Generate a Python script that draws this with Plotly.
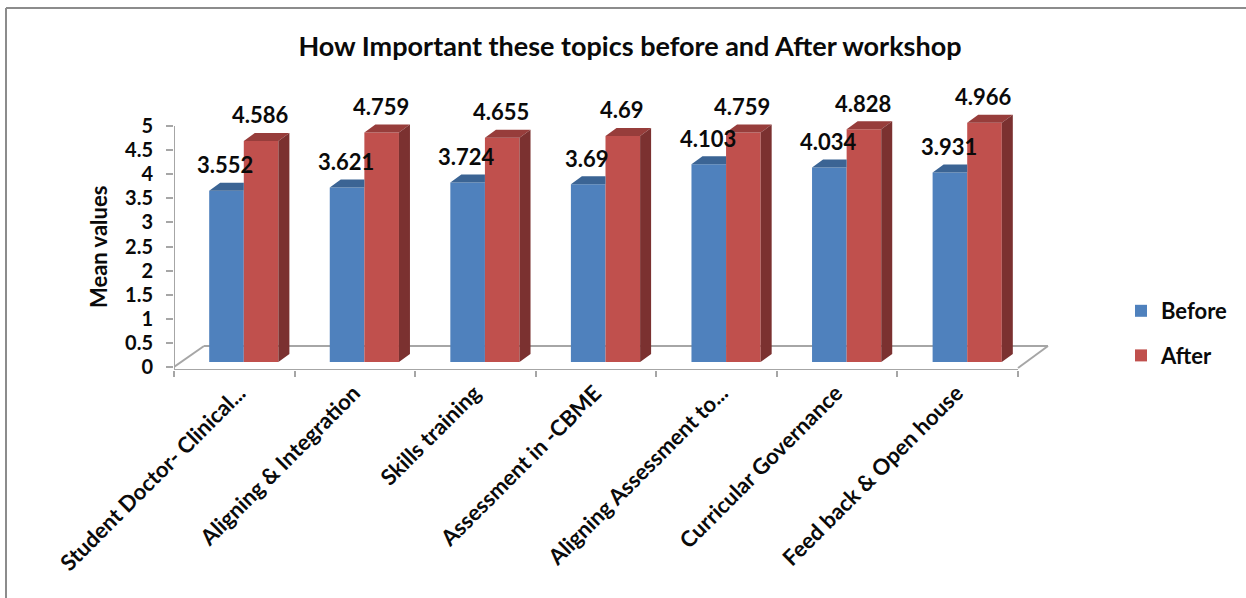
import plotly.graph_objects as go

categories = ["Student Doctor- Clinical...", "Aligning & Integration", "Skills training",
              "Assessment in -CBME", "Aligning Assessment to...", "Curricular Governance",
              "Feed back & Open house"]
before = [3.552, 3.621, 3.724, 3.69, 4.103, 4.034, 3.931]
after = [4.586, 4.759, 4.655, 4.69, 4.759, 4.828, 4.966]
y_ticks = [0, 0.5, 1, 1.5, 2, 2.5, 3, 3.5, 4, 4.5, 5]
y_tick_labels = ["0", "0.5", "1", "1.5", "2", "2.5", "3", "3.5", "4", "4.5", "5"]

W, H = 1246, 598
L, R, T, B = 174, 1060, 100, 370
PX_X = 120.57                # pixels per category
PX_Y = 48.2                  # pixels per y unit
FONT = "Lato"
INK = "#0a0a0a"
BLUE, BLUE_TOP = "#4F81BD", "#3B6494"
RED, RED_TOP, RED_SIDE = "#C0504D", "#973D3B", "#7B3130"
GRID = "#A6A6A6"

px2x = lambda p: p / PX_X
px2y = lambda p: p / PX_Y
y_bottom = -px2y(3)
y_top = px2y(267)
x_top = (R - L) / PX_X

group_shift = px2x(9.5)
bar_w = px2x(34.6)
base = px2y(5)
dx, dy = px2x(11), px2y(8)
centers = [i + 0.5 + group_shift for i in range(len(categories))]
# truncated labels end a little further right than complete ones
label_vals = [i + 0.5 + px2x(5 if c.endswith("...") else -1) for i, c in enumerate(categories)]

fig = go.Figure()
fig.add_bar(x=centers, y=before, base=base, name="Before", marker=dict(color=BLUE, line_width=0),
            offsetgroup="0", legendgroup="a", hoverinfo="skip")
fig.add_bar(x=centers, y=after, base=base, name="After", marker=dict(color=RED, line_width=0),
            offsetgroup="1", legendgroup="b", hoverinfo="skip")

bx, by, rx, ry, sx, sy = [], [], [], [], [], []
for c, b, a in zip(centers, before, after):
    t = b + base
    bx += [c - bar_w, c, c, c - bar_w + dx, None]
    by += [t, t, t + dy, t + dy, None]
    t = a + base
    rx += [c, c + bar_w, c + bar_w + dx, c + dx, None]
    ry += [t, t, t + dy, t + dy, None]
    sx += [c + bar_w, c + bar_w + dx, c + bar_w + dx, c + bar_w, None]
    sy += [t, t + dy, base + dy, base, None]
for xs, ys, col in [(bx, by, BLUE_TOP), (rx, ry, RED_TOP), (sx, sy, RED_SIDE)]:
    fig.add_scatter(x=xs, y=ys, mode="lines", fill="toself", fillcolor=col, line_width=0,
                    showlegend=False, hoverinfo="skip")

for c, b, a in zip(centers, before, after):
    for xx, v in ((c - bar_w / 2, b), (c + bar_w / 2, a)):
        fig.add_annotation(x=xx, y=v + base, text=f"{v:g}", showarrow=False, yshift=26, xshift=-1,
                           font=dict(family=FONT, size=22, color=INK, weight="bold"))

floor_d_x, floor_d_y = px2x(30), px2y(21)
n = len(categories)
floor = [(0, -0.0), (floor_d_x, floor_d_y), (n + floor_d_x, floor_d_y), (n, -0.02)]
for (x0, y0), (x1, y1) in zip(floor[:-1], floor[1:]):
    fig.add_shape(type="line", x0=x0, y0=y0, x1=x1, y1=y1, xref="x", yref="y", layer="below",
                  line=dict(color=GRID, width=2))
fig.add_shape(type="line", x0=0, x1=0, y0=y_bottom, y1=5, xref="x", yref="y", layer="below",
              line=dict(color=GRID, width=2))
fig.add_shape(type="line", x0=0, x1=n, y0=y_bottom, y1=y_bottom, xref="x", yref="y", layer="below",
              line=dict(color=GRID, width=2))

pw, ph = R - L, B - T
fx = lambda p: (p - L) / pw
fy = lambda p: (B - p) / ph
fig.add_shape(type="line", xref="paper", yref="paper", x0=fx(6), x1=fx(1246), y0=fy(8), y1=fy(8),
              line=dict(color="#8C8C8C", width=2))
fig.add_shape(type="line", xref="paper", yref="paper", x0=fx(6), x1=fx(6), y0=fy(8), y1=fy(598),
              line=dict(color="#8C8C8C", width=2))

fig.add_annotation(xref="paper", yref="paper", x=fx(98), y=fy(247), text="Mean values", textangle=-90,
                   xanchor="center", yanchor="middle", showarrow=False,
                   font=dict(family=FONT, size=22, color=INK, weight="bold"))

fig.update_layout(
    width=W, height=H, autosize=False,
    margin=dict(l=L, r=W - R, t=T, b=H - B, pad=0),
    paper_bgcolor="white", plot_bgcolor="rgba(0,0,0,0)",
    barmode="group", bargap=1 - 2 * bar_w, bargroupgap=0,
    title=dict(text="How Important these topics before and After workshop",
               x=630 / W, xanchor="center", y=1 - 47 / H, yanchor="middle",
               font=dict(family=FONT, size=27, color=INK, weight="bold")),
    legend=dict(x=fx(1121), xanchor="left", y=fy(290), yanchor="top", traceorder="grouped",
                tracegroupgap=13, bgcolor="rgba(0,0,0,0)",
                font=dict(family=FONT, size=22, color=INK, weight="bold"), itemclick=False),
    showlegend=True,
    xaxis=dict(type="linear", range=[0, x_top], showgrid=False, zeroline=False, showline=False,
               tickmode="array", tickvals=label_vals,
               ticktext=categories, ticks="", tickangle=-45, ticklabelstandoff=5,
               tickfont=dict(family=FONT, size=22, color=INK, weight="bold"),
               minor=dict(tickmode="array", tickvals=list(range(n + 1)), ticks="outside", ticklen=6,
                          tickwidth=2, tickcolor=GRID, showgrid=False)),
    yaxis=dict(range=[y_bottom, y_top], showgrid=False, zeroline=False, showline=False,
               tickmode="array", tickvals=y_ticks, ticktext=y_tick_labels, ticks="outside",
               ticklen=7, tickwidth=2, tickcolor=GRID, ticklabelstandoff=9,
               tickfont=dict(family=FONT, size=20, color=INK, weight="bold")),
)

fig.write_html("out.html", config={"displayModeBar": False},
               post_script="document.body.style.margin='0';document.body.style.overflow='hidden';")
